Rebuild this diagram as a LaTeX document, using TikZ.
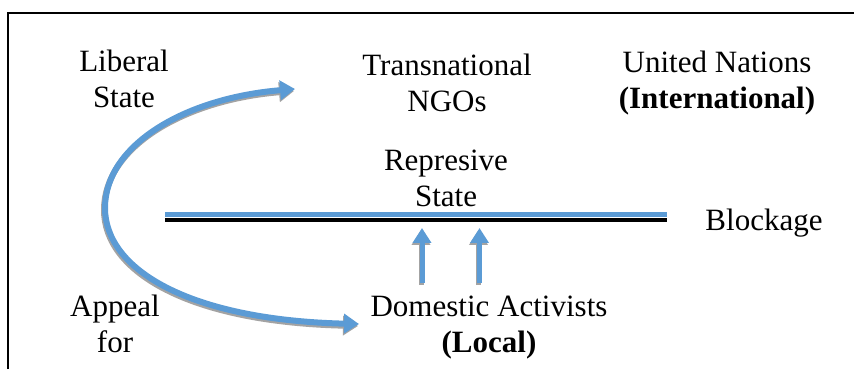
\documentclass[tikz,border=0pt]{standalone}
\usepackage{fontspec}
\setmainfont{Liberation Serif}
\usepackage{xcolor}
\usetikzlibrary{arrows.meta}
\definecolor{flowblue}{HTML}{5B9BD5}
\definecolor{flowshade}{HTML}{A3A3A3}

\begin{document}
\begin{tikzpicture}[x=0.5pt,y=0.5pt,
  txt/.style={align=center,inner sep=0pt,font=\fontsize{15.5}{18}\selectfont},
  curvearrow/.style={line width=3pt,{Triangle[width=9.5pt,length=7.5pt]}-{Triangle[width=9.5pt,length=7.5pt]}},
  uparrow/.style={line width=2.5pt,-{Triangle[width=9pt,length=7.5pt]}},
  shade/.style={flowshade,transform canvas={shift={(-0.5pt,-1pt)}}}]
\useasboundingbox (0,0) rectangle (854,369);
\draw[line width=1pt] (8,0) -- (8,356) -- (854,356);

\node[txt] (lib) at (124,289.7) {Liberal\\State};
\node[txt] (ngo) at (447,285.7) {Transnational\\NGOs};
\node[txt] (un) at (717,285.5) {United Nations\\\textbf{(International)}};
\node[txt] (rep) at (446,190.5) {Represive\\State};
\node[txt] (blk) at (764,146.3) {Blockage};
\node[txt] (dom) at (489,41.5) {Domestic Activists\\\textbf{(Local)}};
\node[txt] (app) at (115,44.7) {Appeal\\for};

\coordinate (ngoin) at (295,280);
\coordinate (turn) at (105,161);
\coordinate (domin) at (359,45);
\coordinate (blkW) at (165,149);
\coordinate (blkE) at (667,149);
\coordinate (d1) at (422,86);
\coordinate (r1) at (422,141);
\coordinate (d2) at (479.5,86);
\coordinate (r2) at (479.5,141);

% blockage line
\draw[line width=2.4pt] (blkW) -- (blkE);
\draw[flowblue,line width=2.5pt] ([yshift=2.65pt]blkW) -- ([yshift=2.65pt]blkE);

% boomerang
\draw[curvearrow,shade] (ngoin) .. controls (185,271) and (105,224) .. (turn)
  .. controls (105,99) and (190,49) .. (domin);
\draw[curvearrow,flowblue] (ngoin) .. controls (185,271) and (105,224) .. (turn)
  .. controls (105,99) and (190,49) .. (domin);

\draw[uparrow,shade] (d1) -- (r1);
\draw[uparrow,shade] (d2) -- (r2);
\draw[uparrow,flowblue] (d1) -- (r1);
\draw[uparrow,flowblue] (d2) -- (r2);
\end{tikzpicture}
\end{document}
